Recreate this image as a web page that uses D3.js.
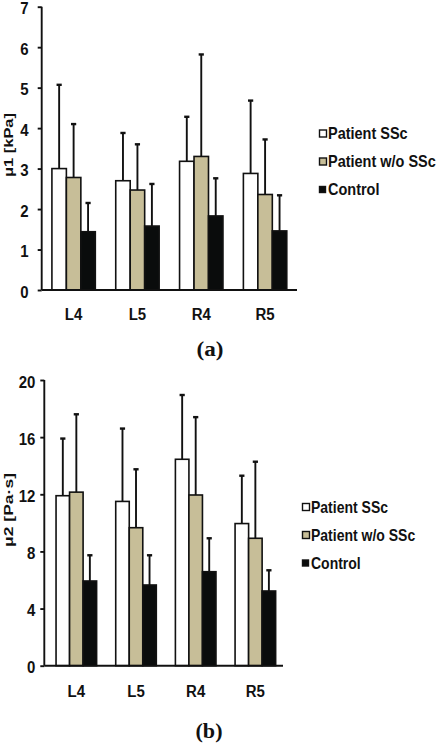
<!DOCTYPE html>
<html>
<head>
<meta charset="utf-8">
<script src="https://cdn.jsdelivr.net/npm/d3@7"></script>
<style>
  html, body { margin: 0; padding: 0; background: #fff; }
  svg { display: block; }
  text { font-family: "Liberation Sans", Arial, sans-serif; font-weight: bold; fill: #111; }
</style>
</head>
<body>
<svg id="chart" width="436" height="750"></svg>
<script>
// ---- data ----
const categories = ["L4", "L5", "R4", "R5"];
const seriesNames = ["Patient SSc", "Patient w/o SSc", "Control"];
const seriesColors = ["#ffffff", "#c7be98", "#0a0c0c"];

// panel (a): μ1 [kPa]
const mu1Mean = [
  [3.00, 2.70, 3.18, 2.88],   // Patient SSc
  [2.78, 2.47, 3.30, 2.36],   // Patient w/o SSc
  [1.44, 1.58, 1.83, 1.46]    // Control
];
const mu1Upper = [
  [5.07, 3.88, 4.28, 4.68],
  [4.10, 3.60, 5.82, 3.72],
  [2.15, 2.62, 2.76, 2.34]
];
const mu1Ticks = [0, 1, 2, 3, 4, 5, 6, 7];

// panel (b): μ2 [Pa·s]
const mu2Mean = [
  [11.9, 11.5, 14.45, 9.95],
  [12.15, 9.66, 11.95, 8.92],
  [5.93, 5.65, 6.58, 5.23]
];
const mu2Upper = [
  [15.9, 16.6, 18.95, 13.3],
  [17.6, 13.75, 17.4, 14.28],
  [7.73, 7.73, 8.92, 6.68]
];
const mu2Ticks = [0, 4, 8, 12, 16, 20];

const svg = d3.select("#chart");
const STRETCH = 1.12;

function panel(cfg) {
  const g = svg.append("g");
  const y = d3.scaleLinear().domain([0, cfg.yMax]).range([cfg.y0, cfg.y1]);
  const x = d3.scaleBand().domain(categories)
    .range([cfg.barX0, cfg.barX1]).paddingInner(0.32).paddingOuter(0.16);
  const xi = d3.scaleBand().domain(d3.range(seriesNames.length)).range([0, x.bandwidth()]);

  // bars
  seriesNames.forEach((s, si) => {
    const rows = categories.map((c, ci) => ({c, v: cfg.mean[si][ci], u: cfg.upper[si][ci]}));
    const eg = g.append("g");
    eg.selectAll("line.e").data(rows).join("line")
      .attr("x1", d => x(d.c) + xi(si) + xi.bandwidth() / 2)
      .attr("x2", d => x(d.c) + xi(si) + xi.bandwidth() / 2)
      .attr("y1", d => y(d.v)).attr("y2", d => y(d.u))
      .attr("stroke", "#111").attr("stroke-width", 1.9);
    eg.selectAll("line.c").data(rows).join("line")
      .attr("x1", d => x(d.c) + xi(si) + xi.bandwidth() / 2 - 2.6)
      .attr("x2", d => x(d.c) + xi(si) + xi.bandwidth() / 2 + 2.6)
      .attr("y1", d => y(d.u)).attr("y2", d => y(d.u))
      .attr("stroke", "#111").attr("stroke-width", 2.4);
    g.append("g").selectAll("rect").data(rows).join("rect")
      .attr("x", d => x(d.c) + xi(si))
      .attr("y", d => y(d.v))
      .attr("width", xi.bandwidth())
      .attr("height", d => y(0) - y(d.v))
      .attr("fill", seriesColors[si])
      .attr("stroke", "#111").attr("stroke-width", 1.6);
  });

  // y axis
  const ya = g.append("g").attr("transform", `translate(${cfg.axX},0)`)
    .call(d3.axisLeft(y).tickValues(cfg.ticks).tickSize(4).tickPadding(cfg.tickPad).tickFormat(d3.format("d")));
  ya.select(".domain").attr("stroke", "#111").attr("stroke-width", 1.9)
    .attr("d", `M0,${cfg.y1}V${cfg.y0}`);
  ya.selectAll(".tick line").attr("stroke", "#111").attr("stroke-width", 1.9);
  ya.selectAll(".tick text").attr("font-size", 15).attr("font-family", "Liberation Sans, Arial, sans-serif")
    .attr("font-weight", "bold").attr("fill", "#111")
    .attr("dy", "0.36em")
    .attr("transform", `translate(0,1) scale(1,${STRETCH})`);

  // x axis line
  g.append("line").attr("x1", cfg.axX).attr("x2", cfg.axXEnd)
    .attr("y1", y(0)).attr("y2", y(0)).attr("stroke", "#111").attr("stroke-width", 1.9);
  const xa = g.append("g").attr("transform", `translate(0,${cfg.y0})`)
    .call(d3.axisBottom(x).tickSize(0).tickPadding(cfg.catPad));
  xa.select(".domain").remove();
  xa.selectAll(".tick text").attr("font-size", 15).attr("font-family", "Liberation Sans, Arial, sans-serif")
    .attr("font-weight", "bold").attr("fill", "#111")
    .attr("transform", `scale(1,${STRETCH})`);

  // y label
  g.append("text")
    .attr("transform", `translate(${cfg.labX},${cfg.labY}) rotate(-90)`)
    .attr("text-anchor", "middle")
    .attr("font-size", 13.5)
    .attr("textLength", cfg.labLen).attr("lengthAdjust", "spacingAndGlyphs")
    .text(cfg.label);

  // legend
  const lg = g.append("g");
  seriesNames.forEach((s, si) => {
    const cy = cfg.legY + si * 28;
    const sz = si === 2 ? 6 : 7;
    lg.append("rect").attr("x", cfg.legX).attr("y", cy - sz / 2).attr("width", sz).attr("height", sz)
      .attr("fill", seriesColors[si]).attr("stroke", "#111").attr("stroke-width", 1.4);
    lg.append("text")
      .attr("transform", `translate(${cfg.legX + 8.5},${cy + 5.5}) scale(1,${STRETCH})`)
      .attr("font-size", cfg.legFont).text(s);
  });

  // panel tag
  svg.append("text").attr("x", cfg.tagX).attr("y", cfg.tagY)
    .attr("text-anchor", "middle")
    .style("font-family", "'Liberation Serif', 'Times New Roman', serif")
    .attr("font-size", 20)
    .attr("textLength", 27).attr("lengthAdjust", "spacingAndGlyphs")
    .text(cfg.tag);
}

panel({
  mean: mu1Mean, upper: mu1Upper, ticks: mu1Ticks, yMax: 7,
  y0: 290, y1: 6.7, axX: 41.7, axXEnd: 297, barX0: 41.7, barX1: 297,
  tickPad: 9, catPad: 16, label: "μ1 [kPa]", labX: 12.5, labY: 145, labLen: 64,
  legX: 319.5, legY: 133.5, legFont: 14.5, tag: "(a)", tagX: 210, tagY: 356
});

panel({
  mean: mu2Mean, upper: mu2Upper, ticks: mu2Ticks, yMax: 20,
  y0: 665.7, y1: 380, axX: 44.3, axXEnd: 283, barX0: 46.5, barX1: 285.2,
  tickPad: 5, catPad: 17.3, label: "μ2 [Pa·s]", labX: 12.5, labY: 510, labLen: 74,
  legX: 302.5, legY: 507, legFont: 14, tag: "(b)", tagX: 209, tagY: 738
});
</script>
</body>
</html>
